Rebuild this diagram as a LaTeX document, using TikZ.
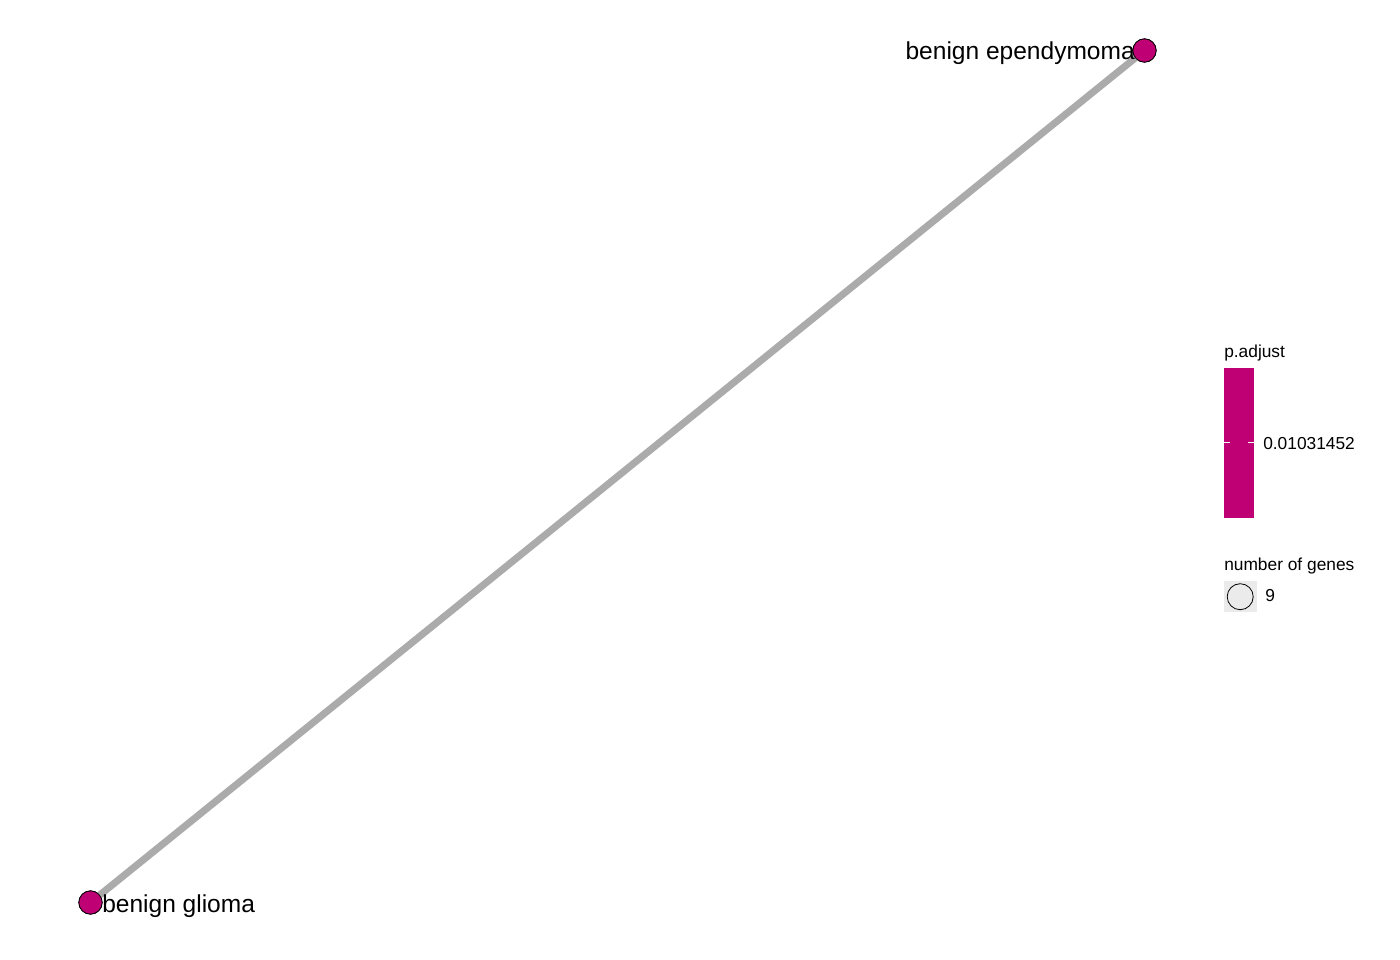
\documentclass[tikz,border=0pt]{standalone}
\usepackage{fontspec}
\setmainfont{Liberation Sans}
\definecolor{nodefill}{RGB}{190,0,116}
\definecolor{edgegray}{RGB}{171,171,171}
\definecolor{keygray}{RGB}{235,235,235}
\begin{document}
\begin{tikzpicture}[x=0.75pt,y=-0.75pt,
  term/.style={circle,draw=black,line width=0.6pt,fill=nodefill,minimum size=17.5pt,inner sep=0pt},
  lab/.style={font=\fontsize{18.4pt}{22pt}\selectfont,inner sep=0pt,text=black},
  leg/.style={font=\fontsize{13pt}{15pt}\selectfont,inner sep=0pt,text=black},
  edgeline/.style={draw=edgegray,line width=5.3pt}]
\useasboundingbox (0,0) rectangle (1400,960);
% nodes
\node[term] (epe) at (1144.5,50.5) {};
\node[term] (gli) at (90.5,902.5) {};
\begin{scope}[on background layer/.try]
\end{scope}
\draw[edgeline] (epe.center) -- (gli.center);
\node[term] at (epe.center) {};
\node[term] at (gli.center) {};
\node[lab,anchor=base east] (epelab) at (1135,59) {benign ependymoma};
\node[lab,anchor=base west] (glilab) at (102,912) {benign glioma};
% legend: p.adjust
\node[leg,anchor=base west] (padj) at (1224,357) {p.adjust};
\fill[nodefill] (1224,367.5) rectangle (1254,517.5);
\node[inner sep=0pt,minimum width=22.5pt,minimum height=112.5pt] (cbar) at (1239,442.5) {};
\draw[white,line width=0.5pt] (1224,442.7) -- (1230,442.7) (1248,442.7) -- (1254,442.7);
\node[leg,anchor=base west] (tick) at (1263,449) {0.01031452};
% legend: number of genes
\node[leg,anchor=base west] (ngenes) at (1224,570) {number of genes};
\fill[keygray] (1224,580.5) rectangle (1256.5,612);
\node[circle,draw=black,line width=0.6pt,fill=keygray,minimum size=19.5pt,inner sep=0pt] (keyc) at (1240.2,596.7) {};
\node[leg,anchor=base west] (nine) at (1265,601.5) {9};
\end{tikzpicture}
\end{document}
